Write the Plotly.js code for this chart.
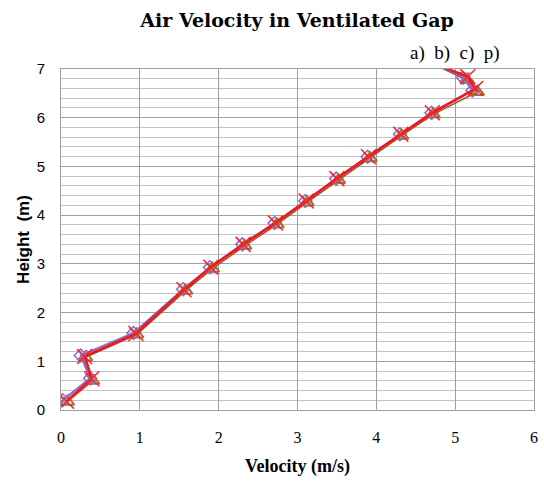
<!DOCTYPE html>
<html>
<head>
<meta charset="utf-8">
<script src="https://cdn.plot.ly/plotly-3.0.1.min.js"></script>
<style>html,body{margin:0;padding:0;background:#fff;}</style>
</head>
<body>
<div id="chart" style="width:544px;height:481px;"></div>
<script>
// Height (m) levels
const heightA = [0.2, 0.65, 1.12, 1.58, 2.48, 2.93, 3.4, 3.84, 4.29, 4.75, 5.2, 5.66, 6.1, 6.56, 6.82, 7.2];
const velA    = [0.02, 0.37, 0.25, 0.92, 1.55, 1.89, 2.3, 2.71, 3.1, 3.49, 3.89, 4.3, 4.7, 5.22, 5.1, 4.6];
const heightB = [0.17, 0.6, 1.08, 1.55, 2.45, 2.9, 3.37, 3.81, 4.26, 4.72, 5.17, 5.63, 6.07, 6.53, 6.78, 7.2];
const velB    = [0.08, 0.4, 0.31, 0.96, 1.58, 1.92, 2.33, 2.74, 3.12, 3.52, 3.92, 4.32, 4.72, 5.28, 5.15, 4.6];
const heightC = [0.22, 0.63, 1.13, 1.58, 2.47, 2.92, 3.39, 3.83, 4.28, 4.74, 5.19, 5.65, 6.09, 6.58, 6.83, 7.2];
const velC    = [0.03, 0.37, 0.27, 0.93, 1.56, 1.9, 2.31, 2.72, 3.11, 3.5, 3.9, 4.31, 4.71, 5.23, 5.12, 4.6];
const heightP = [0.18, 0.64, 1.1, 1.57, 2.47, 2.93, 3.4, 3.84, 4.29, 4.75, 5.2, 5.66, 6.1, 6.6, 6.84, 7.2];
const velP    = [0.07, 0.39, 0.3, 0.95, 1.56, 1.9, 2.31, 2.72, 3.11, 3.5, 3.9, 4.31, 4.71, 5.26, 5.16, 4.6];
const legendLabels = ['a)', 'b)', 'c)', 'p)'];

const traces = [
  {x: velA, y: heightA, name: legendLabels[0], mode: 'lines+markers',
   line: {color: '#7b5fc4', width: 2},
   marker: {symbol: 'diamond-open', size: 10, color: '#8a6ad0', line: {width: 1.5}}},
  {x: velB, y: heightB, name: legendLabels[1], mode: 'lines+markers',
   line: {color: '#a0522d', width: 1.5},
   marker: {symbol: 'triangle-up-open', size: 12, color: '#a0703c', line: {width: 2}}},
  {x: velC, y: heightC, name: legendLabels[2], mode: 'lines+markers',
   line: {color: '#9070d8', width: 1.5},
   marker: {symbol: 'x-thin-open', size: 10, color: '#9070d8', line: {width: 1.5}}},
  {x: velP, y: heightP, name: legendLabels[3], mode: 'lines+markers',
   line: {color: '#f01818', width: 2.5},
   marker: {symbol: 'x-thin-open', size: 15, color: '#ff2020', line: {width: 1.5, color: '#ff2020'}}}
];

const layout = {
  width: 544, height: 481,
  margin: {l: 61, r: 10, t: 69, b: 71},
  paper_bgcolor: '#fff', plot_bgcolor: '#fff',
  showlegend: false,
  title: {text: '<b>Air Velocity in Ventilated Gap</b>', x: 0.546, xanchor: 'center', y: 0.958, yanchor: 'middle',
          font: {family: 'DejaVu Serif, Liberation Serif, serif', size: 19, color: '#000'}},
  xaxis: {range: [0, 6], dtick: 1, tick0: 0, showgrid: true, gridcolor: '#a0a0a0', gridwidth: 1,
          zeroline: false, showline: true, linecolor: '#a0a0a0', mirror: true,
          ticks: 'outside', ticklen: 13, tickcolor: 'rgba(0,0,0,0)',
          tickfont: {family: 'Liberation Serif, serif', size: 16, color: '#000'},
          title: {text: '<b>Velocity (m/s)</b>', standoff: 14,
                  font: {family: 'Liberation Serif, serif', size: 18, color: '#000'}}},
  yaxis: {range: [0, 7], dtick: 1, tick0: 0, showgrid: true, gridcolor: '#a0a0a0', gridwidth: 1,
          minor: {dtick: 0.2, showgrid: true, gridcolor: '#c4c4c4', gridwidth: 1},
          zeroline: false, showline: true, linecolor: '#a0a0a0', mirror: true,
          ticks: 'outside', ticklen: 12, tickcolor: 'rgba(0,0,0,0)',
          tickfont: {family: 'Liberation Sans, sans-serif', size: 15, color: '#000'},
          title: {text: '<b>Height  (m)</b>', standoff: 2,
                  font: {family: 'Liberation Sans, sans-serif', size: 17, color: '#000'}}},
  annotations: [{xref: 'paper', yref: 'paper', x: 0.833, y: 1.01, xanchor: 'center', yanchor: 'bottom',
                 text: legendLabels.join('&nbsp;&nbsp;'), showarrow: false,
                 font: {family: 'Liberation Serif, serif', size: 19, color: '#000'}}]
};

Plotly.newPlot('chart', traces, layout, {displayModeBar: false, staticPlot: true});
</script>
</body>
</html>
